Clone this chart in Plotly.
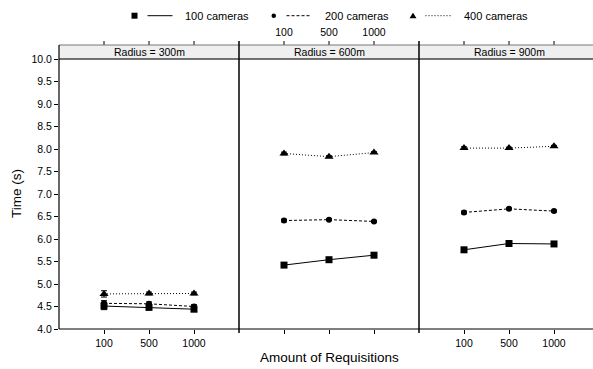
import plotly.graph_objects as go

# ---- data ----
reqs = ["100", "500", "1000"]
radii = ["Radius = 300m", "Radius = 600m", "Radius = 900m"]
series_names = ["100 cameras", "200 cameras", "400 cameras"]

t100 = [[4.51, 4.48, 4.44], [5.42, 5.54, 5.64], [5.76, 5.90, 5.89]]
t200 = [[4.57, 4.56, 4.50], [6.41, 6.43, 6.39], [6.59, 6.67, 6.62]]
t400 = [[4.78, 4.79, 4.79], [7.90, 7.83, 7.92], [8.02, 8.02, 8.06]]

e100 = [[0.08, 0.05, 0.05], [0.03, 0.02, 0.02], [0.03, 0.02, 0.02]]
e200 = [[0.06, 0.04, 0.04], [0.03, 0.02, 0.02], [0.03, 0.02, 0.02]]
e400 = [[0.07, 0.03, 0.03], [0.03, 0.02, 0.02], [0.03, 0.02, 0.02]]

y_ticks = [4.0, 4.5, 5.0, 5.5, 6.0, 6.5, 7.0, 7.5, 8.0, 8.5, 9.0, 9.5, 10.0]

# ---- geometry (pixels) ----
FW, FH = 593, 369
L, R, MT, B = 59, 593, 22, 329   # MT: top of the paper area
T = 45                            # top of the strips
PW = 180                          # panel width
STEP = 45                         # pixels per category step
W, H = R - L, B - MT
PANEL_TOP = 59

def px(x):
    return (x - L) / W

def py(y):
    return (B - y) / H

FONT = "Liberation Sans, Arial, Helvetica, sans-serif"
styles = [
    dict(symbol="square", size=7, dash="solid"),
    dict(symbol="circle", size=6, dash="3px,2px"),
    dict(symbol="triangle-up", size=8, dash="1px,2px"),
]
data_sets = [(t100, e100), (t200, e200), (t400, e400)]
tickfont = dict(family=FONT, size=10.5, color="black")

fig = go.Figure()
for p in range(3):
    xa = "x" if p == 0 else f"x{p+1}"
    ya = "y" if p == 0 else f"y{p+1}"
    for s, (vals, errs) in enumerate(data_sets):
        st = styles[s]
        fig.add_trace(go.Scatter(
            x=reqs, y=vals[p], xaxis=xa, yaxis=ya, mode="lines+markers",
            name=series_names[s], showlegend=False,
            line=dict(color="black", width=1, dash=st["dash"]),
            marker=dict(symbol=st["symbol"], size=st["size"], color="black"),
            error_y=dict(type="data", array=errs[p], color="black", thickness=1, width=3),
            cliponaxis=False,
        ))

# top (alternating) tick labels of the middle panel, as a text trace on its own strip axis
fig.add_trace(go.Scatter(
    x=reqs, y=[0.5] * len(reqs), xaxis="x4", yaxis="y4", mode="text",
    text=reqs, textposition="middle center", textfont=tickfont,
    showlegend=False, hoverinfo="skip", cliponaxis=False,
))

layout = dict(
    template="none",
    width=FW, height=FH, paper_bgcolor="white", plot_bgcolor="rgba(0,0,0,0)",
    margin=dict(l=L, r=FW - R, t=MT, b=FH - B, pad=0), showlegend=False,
)
for p in range(3):
    x0 = p * PW
    x1 = min((p + 1) * PW, W)
    rng_hi = -1 + (x1 - x0) / STEP
    key = "xaxis" if p == 0 else f"xaxis{p+1}"
    ykey = "yaxis" if p == 0 else f"yaxis{p+1}"
    layout[key] = dict(
        domain=[x0 / W, x1 / W], anchor="y" if p == 0 else f"y{p+1}", type="category",
        categoryorder="array", categoryarray=reqs, range=[-1, rng_hi],
        showgrid=False, zeroline=False, showline=False, automargin=False,
        ticks="outside", ticklen=4, tickwidth=1, tickcolor="black",
        tickfont=tickfont, tickangle=0, fixedrange=True, showticklabels=(p != 1),
    )
    layout[ykey] = dict(
        domain=[0, py(PANEL_TOP)], anchor="x" if p == 0 else f"x{p+1}", range=[4, 10],
        showgrid=False, zeroline=False, showline=False, automargin=False,
        tickmode="array", tickvals=y_ticks, ticktext=[f"{v:.1f}" for v in y_ticks],
        ticks="outside" if p == 0 else "", ticklen=4, tickwidth=1, tickcolor="black",
        showticklabels=(p == 0), tickfont=tickfont, fixedrange=True,
    )

# axis for the top labels: same category scale as the middle panel, band between y=25..41 px
layout["xaxis4"] = dict(domain=[PW / W, 2 * PW / W], anchor="y4", type="category",
                        categoryorder="array", categoryarray=reqs, range=[-1, -1 + PW / STEP],
                        visible=False, fixedrange=True)
layout["yaxis4"] = dict(domain=[py(41), py(25)], anchor="x4", range=[0, 1],
                        visible=False, fixedrange=True)

shapes = []
annotations = []
# strips
for p in range(3):
    xa0 = L + p * PW
    xa1 = min(L + (p + 1) * PW, R)
    shapes.append(dict(type="rect", xref="paper", yref="paper",
                       x0=px(xa0), x1=px(xa1), y0=py(PANEL_TOP), y1=py(T),
                       fillcolor="#efefef", line=dict(width=0), layer="below"))
    annotations.append(dict(xref="paper", yref="paper", x=px(L + p * PW + PW / 2), y=py(52),
                            text=radii[p], showarrow=False, xanchor="center", yanchor="middle",
                            font=dict(family=FONT, size=10.5, color="black")))
    # ticks of the top axis above each strip
    for i, c in enumerate(reqs):
        xt = L + p * PW + (i + 1) * STEP
        if xt > R:
            continue
        shapes.append(dict(type="line", xref="paper", yref="paper", x0=px(xt), x1=px(xt),
                           y0=py(T), y1=py(T - 4), line=dict(color="black", width=1)))
# strip top and panel top lines
shapes.append(dict(type="line", xref="paper", yref="paper", x0=0, x1=1, y0=py(T), y1=py(T),
                   line=dict(color="#777", width=1)))
shapes.append(dict(type="line", xref="paper", yref="paper", x0=0, x1=1, y0=py(PANEL_TOP), y1=py(PANEL_TOP),
                   line=dict(color="#444", width=1.5)))
# bottom line
shapes.append(dict(type="line", xref="paper", yref="paper", x0=0, x1=1, y0=0, y1=0,
                   line=dict(color="#555", width=1.5)))
# left border
shapes.append(dict(type="line", xref="paper", yref="paper", x0=0, x1=0, y0=0, y1=py(T),
                   line=dict(color="black", width=1.2)))
# dividers
for xd in [L + PW, L + 2 * PW]:
    shapes.append(dict(type="line", xref="paper", yref="paper", x0=px(xd), x1=px(xd),
                       y0=py(B + 4), y1=py(T - 4), line=dict(color="black", width=1.5)))

# legend (manual key)
ly = 15.7
shapes.append(dict(type="rect", xref="paper", yref="paper", x0=px(131.5), x1=px(137.5),
                   y0=py(ly + 3), y1=py(ly - 3), fillcolor="black", line=dict(width=0)))
shapes.append(dict(type="circle", xref="paper", yref="paper", x0=px(271.5), x1=px(276),
                   y0=py(ly + 2.3), y1=py(ly - 2.3), fillcolor="black", line=dict(width=0)))
tri = f"M {px(409.5)} {py(ly+2.6)} L {px(416.5)} {py(ly+2.6)} L {px(413)} {py(ly-3)} Z"
shapes.append(dict(type="path", xref="paper", yref="paper", path=tri,
                   fillcolor="black", line=dict(width=0)))
for (xa, xb), dash in zip([(147.5, 172.5), (286.5, 311.5), (425.5, 450.5)],
                          ["solid", "3px,2px", "1px,2px"]):
    shapes.append(dict(type="line", xref="paper", yref="paper", x0=px(xa), x1=px(xb),
                       y0=py(ly), y1=py(ly), line=dict(color="black", width=1, dash=dash)))
for xt, name in zip([183, 322.5, 461.5], series_names):
    annotations.append(dict(xref="paper", yref="paper", x=px(xt), y=py(ly), text=name,
                            showarrow=False, xanchor="left", yanchor="middle",
                            font=dict(family=FONT, size=11, color="black")))

# axis titles
annotations.append(dict(xref="paper", yref="paper", x=px(L + 270), y=py(357),
                        text="Amount of Requisitions", showarrow=False,
                        xanchor="center", yanchor="middle",
                        font=dict(family=FONT, size=13.5, color="black")))
annotations.append(dict(xref="paper", yref="paper", x=px(16), y=py(194),
                        text="Time (s)", showarrow=False, textangle=-90,
                        xanchor="center", yanchor="middle",
                        font=dict(family=FONT, size=13.5, color="black")))

layout["shapes"] = shapes
layout["annotations"] = annotations
fig.update_layout(**layout)
fig.write_html("out.html")
